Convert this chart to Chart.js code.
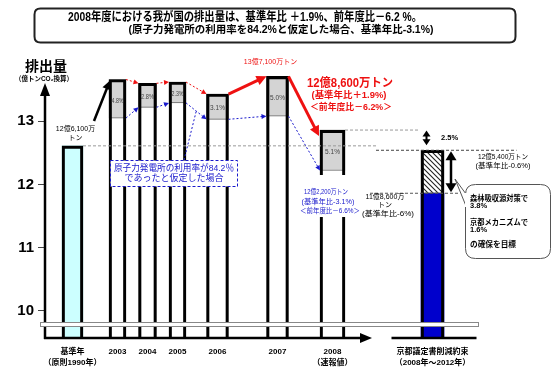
<!DOCTYPE html>
<html><head><meta charset="utf-8">
<script src="https://cdn.jsdelivr.net/npm/chart.js@4/dist/chart.umd.min.js"></script>
<style>html,body{margin:0;padding:0;background:#fff}#wrap{width:553px;height:369px;position:relative}</style>
</head><body><div id="wrap"><canvas id="c" width="553" height="369"></canvas></div>
<script>
// ---------------- data (億トンCO2) ----------------
const categories = ['基準年', '2003', '2004', '2005', '2006', '2007', '2008', '京都議定書削減約束'];
const categorySubLabels = ['（原則1990年）', '', '', '', '', '', '（速報値）', '（2008年～2012年）'];
const emissions = [12.61, 13.66, 13.60, 13.62, 13.43, 13.71, 12.86, 12.54];
const nuclearAdjusted = [null, 13.05, 13.22, 13.29, 13.03, 13.08, 12.22, null];
const nuclearShareLabels = ['', '4.8%', '2.8%', '2.3%', '3.1%', '5.0%', '5.1%', ''];
const kyotoDomestic = [null, null, null, null, null, null, null, 11.86];
const yTicks = [10, 11, 12, 13];

// ---------------- layout / style ----------------
const SLOT_COUNT = 100;
const slotOf = [5, 14, 20, 26, 34, 46, 57, 77];
const barWidth = [21, 17, 18, 17, 22, 22, 25, 23];
const barFill = ['#ccffff', '#ffffff', '#ffffff', '#ffffff', '#ffffff', '#ffffff', '#ffffff', '#0000cc'];
const Y_MIN = 9.57, Y_MAX = 14;
const FONT = "'Liberation Sans', 'Noto Sans CJK JP', sans-serif";
const RED = '#ee1111', BLUE = '#1a1acc';

// hatch pattern
const hatch = (() => {
  const c = document.createElement('canvas'); c.width = 5; c.height = 5;
  const g = c.getContext('2d');
  g.fillStyle = '#fff'; g.fillRect(0, 0, 5, 5);
  g.strokeStyle = '#222'; g.lineWidth = 1.1;
  g.beginPath();
  g.moveTo(-1, -1); g.lineTo(6, 6);
  g.moveTo(4, -1); g.lineTo(6, 1);
  g.moveTo(-1, 4); g.lineTo(1, 6);
  g.stroke();
  return g.createPattern(c, 'repeat');
})();

// build labels & datasets
const labels = Array(SLOT_COUNT).fill('');
categories.forEach((c, i) => {
  labels[slotOf[i]] = categorySubLabels[i] ? [c, categorySubLabels[i]] : c;
});
const empty = () => Array(SLOT_COUNT).fill(null);
const datasets = [];
categories.forEach((c, i) => {
  const k = slotOf[i];
  const top = emissions[i];
  const base = { grouped: false, barThickness: barWidth[i], clip: 0 };
  const fillTop = kyotoDomestic[i] != null ? kyotoDomestic[i] : top;
  const fd = empty(); fd[k] = [Y_MIN, fillTop];
  datasets.push({ ...base, data: fd, backgroundColor: barFill[i], borderWidth: 0, order: 3 });
  const lo = nuclearAdjusted[i] != null ? nuclearAdjusted[i] : kyotoDomestic[i];
  if (lo != null) {
    const sd = empty(); sd[k] = [lo, top];
    datasets.push({ ...base, data: sd, backgroundColor: kyotoDomestic[i] != null ? hatch : '#d4d4d4',
      borderColor: '#666', borderWidth: 1, borderSkipped: false, order: 2 });
  }
  const od = empty(); od[k] = [Y_MIN, top];
  datasets.push({ ...base, data: od, backgroundColor: 'rgba(0,0,0,0)', borderColor: '#000',
    borderWidth: 2.5, borderSkipped: 'start', order: 1 });
});

// ---------------- drawing helpers ----------------
function txt(ctx, s, x, y, o = {}) {
  ctx.save();
  ctx.font = `${o.bold ? 'bold ' : ''}${o.size || 7}px ${FONT}`;
  ctx.fillStyle = o.color || '#000';
  ctx.textAlign = o.align || 'center';
  ctx.textBaseline = 'middle';
  ctx.translate(x, y);
  const w = ctx.measureText(s).width;
  if (o.width) ctx.scale(o.width / w, 1);
  else if (o.maxWidth && w > o.maxWidth) ctx.scale(o.maxWidth / w, 1);
  ctx.fillText(s, 0, 0);
  ctx.restore();
}
function line(ctx, x1, y1, x2, y2, o = {}) {
  ctx.save();
  ctx.strokeStyle = o.color || '#000'; ctx.lineWidth = o.lw || 1; ctx.setLineDash(o.dash || []);
  ctx.beginPath(); ctx.moveTo(x1, y1); ctx.lineTo(x2, y2); ctx.stroke();
  ctx.restore();
}
function head(ctx, x1, y1, x2, y2, len, hw, color) {
  const a = Math.atan2(y2 - y1, x2 - x1);
  const bx = x2 - len * Math.cos(a), by = y2 - len * Math.sin(a);
  ctx.save(); ctx.fillStyle = color;
  ctx.beginPath(); ctx.moveTo(x2, y2);
  ctx.lineTo(bx + hw * Math.sin(a), by - hw * Math.cos(a));
  ctx.lineTo(bx - hw * Math.sin(a), by + hw * Math.cos(a));
  ctx.closePath(); ctx.fill(); ctx.restore();
  return [bx, by];
}
function arrow(ctx, x1, y1, x2, y2, o = {}) {
  const color = o.color || '#000';
  const a = Math.atan2(y2 - y1, x2 - x1);
  const len = o.head || 6;
  line(ctx, x1, y1, x2 - len * 0.8 * Math.cos(a), y2 - len * 0.8 * Math.sin(a), o);
  head(ctx, x1, y1, x2, y2, len, o.hw || 3, color);
}
function dblArrow(ctx, x, y1, y2, o = {}) {
  const len = o.head || 6;
  line(ctx, x, y1 + len * 0.8, x, y2 - len * 0.8, o);
  head(ctx, x, y2, x, y1, len, o.hw || 3, o.color || '#000');
  head(ctx, x, y1, x, y2, len, o.hw || 3, o.color || '#000');
}
function rrect(ctx, x, y, w, h, r) {
  ctx.beginPath();
  ctx.moveTo(x + r, y); ctx.lineTo(x + w - r, y); ctx.quadraticCurveTo(x + w, y, x + w, y + r);
  ctx.lineTo(x + w, y + h - r); ctx.quadraticCurveTo(x + w, y + h, x + w - r, y + h);
  ctx.lineTo(x + r, y + h); ctx.quadraticCurveTo(x, y + h, x, y + h - r);
  ctx.lineTo(x, y + r); ctx.quadraticCurveTo(x, y, x + r, y); ctx.closePath();
}

const annotations = {
  id: 'annotations',
  afterDraw(chart) {
    const ctx = chart.ctx, xs = chart.scales.x, ys = chart.scales.y, A = chart.chartArea;
    const X = i => xs.getPixelForValue(slotOf[i]);
    const L = i => X(i) - barWidth[i] / 2, R = i => X(i) + barWidth[i] / 2;
    const Y = v => ys.getPixelForValue(v);

    // title box
    ctx.save(); ctx.lineWidth = 2; ctx.strokeStyle = '#222';
    rrect(ctx, 34.5, 8.5, 481, 34, 6); ctx.stroke(); ctx.restore();
    txt(ctx, '2008年度における我が国の排出量は、基準年比 ＋1.9%、前年度比－6.2 %。', 245, 17.5, { bold: true, size: 12.5, width: 354 });
    txt(ctx, '(原子力発電所の利用率を84.2%と仮定した場合、基準年比-3.1%)', 281, 30.5, { bold: true, size: 10.5, width: 305 });

    // axis title
    txt(ctx, '排出量', 46, 67, { bold: true, size: 14 });
    txt(ctx, '（億トンCO₂換算）', 44, 79.5, { bold: true, size: 7, width: 58 });

    // y axis arrow
    line(ctx, A.left, A.bottom + 1, A.left, A.top + 35, { lw: 2.5 });
    head(ctx, A.left, A.top + 40, A.left, A.top + 25, 13, 5, '#000');

    // base-year dashed reference line & kyoto lines
    line(ctx, R(0), Y(emissions[0]), L(7) - 45, Y(emissions[0]), { color: '#999', dash: [3, 2] });
    line(ctx, L(7) - 45, Y(emissions[7]), X(7) + 84, Y(emissions[7]), { color: '#444', dash: [3, 2] });
    line(ctx, R(6), Y(emissions[6]), L(7) - 1, Y(emissions[6]), { color: '#999', dash: [3, 2] });
    line(ctx, L(7) - 51, Y(kyotoDomestic[7]), X(7) + 27, Y(kyotoDomestic[7]), { color: '#555', dash: [3, 2] });

    // base year label + arrow
    txt(ctx, '12億6,100万', X(0) + 3, 129, { size: 7 });
    txt(ctx, 'トン', X(0) + 3, 138, { size: 7 });
    arrow(ctx, 94, 121, L(1) + 1, Y(emissions[1]) + 1, { lw: 2.5, head: 9, hw: 4.5 });

    // nuclear share labels
    nuclearAdjusted.forEach((v, i) => {
      if (v == null) return;
      txt(ctx, nuclearShareLabels[i], X(i), (Y(v) + Y(emissions[i])) / 2 + 2, { size: 6.5, color: '#444', maxWidth: barWidth[i] - 5 });
    });

    // red trend arrows
    for (let i = 1; i <= 3; i++)
      arrow(ctx, R(i), Y(emissions[i]), L(i + 1), Y(emissions[i + 1]), { color: RED, dash: [2, 2], head: 5, hw: 2.5 });
    arrow(ctx, R(4), Y(emissions[4]), L(5), Y(emissions[5]), { color: RED, lw: 3, head: 10, hw: 5 });
    arrow(ctx, R(5), Y(emissions[5]), L(6) - 1, Y(emissions[6]) + 6, { color: RED, lw: 3, head: 10, hw: 5 });

    // blue adjusted arrows
    for (let i = 1; i <= 5; i++)
      arrow(ctx, R(i), Y(nuclearAdjusted[i]), L(i + 1), Y(nuclearAdjusted[i + 1]), { color: BLUE, dash: [2, 2], head: 5, hw: 2.5 });

    // blue note box + leader
    const mx = (R(3) + L(4)) / 2, my = (Y(nuclearAdjusted[3]) + Y(nuclearAdjusted[4])) / 2;
    line(ctx, 184, 160, mx, my, { color: BLUE, dash: [2, 2] });
    ctx.save(); ctx.fillStyle = '#fff'; ctx.fillRect(110.5, 160.5, 127, 26);
    ctx.strokeStyle = BLUE; ctx.setLineDash([3, 2]); ctx.strokeRect(110.5, 160.5, 127, 26); ctx.restore();
    txt(ctx, '原子力発電所の利用率が84.2％', 174, 168.5, { size: 9, color: BLUE, width: 120 });
    txt(ctx, 'であったと仮定した場合', 174, 179, { size: 9, color: BLUE });

    // 2007 label
    txt(ctx, '13億7,100万トン', X(5) - 7, 62, { size: 7, color: RED });

    // 2008 red callout text
    txt(ctx, '12億8,600万トン', 350, 84, { bold: true, size: 12, color: RED, width: 86 });
    txt(ctx, '(基準年比＋1.9%)', 349, 96, { bold: true, size: 9, color: RED, width: 75 });
    txt(ctx, '＜前年度比－6.2%＞', 351, 107.5, { bold: true, size: 9, color: RED, width: 82 });

    // 2008 adjusted label (white backing)
    ctx.save(); ctx.fillStyle = '#fff'; ctx.fillRect(298, 175, 66, 42); ctx.restore();
    txt(ctx, '12億2,200万トン', 326, 192, { size: 7, color: BLUE, width: 44 });
    txt(ctx, '(基準年比-3.1%)', 328, 202, { size: 7, color: BLUE, width: 53 });
    txt(ctx, '＜前年度比－6.6%＞', 330, 211, { size: 7, color: BLUE, width: 60 });

    // Kyoto annotations
    dblArrow(ctx, X(7) - 6, Y(emissions[6]) + 0.5, Y(emissions[0]) - 0.5, { lw: 2, head: 6, hw: 4 });
    txt(ctx, '2.5%', 441, 138, { bold: true, size: 7.5, align: 'left' });
    dblArrow(ctx, X(7) + 18.5, Y(emissions[7]) + 1, Y(kyotoDomestic[7]) - 1, { lw: 2.5, head: 9, hw: 5.5 });
    txt(ctx, '12億5,400万トン', 503, 157, { size: 7, width: 50 });
    txt(ctx, '(基準年比-0.6%)', 503, 166, { size: 7, width: 55 });
    txt(ctx, '11億8,600万', 385, 197, { size: 7 });
    txt(ctx, 'トン', 385, 205.5, { size: 7 });
    txt(ctx, '(基準年比-6%)', 388, 214, { size: 7, width: 52 });

    // speech callout
    ctx.save();
    ctx.fillStyle = '#fff'; ctx.strokeStyle = '#555'; ctx.lineWidth = 1;
    rrect(ctx, 465.5, 184.5, 85, 74, 10); ctx.fill(); ctx.stroke();
    ctx.beginPath(); ctx.moveTo(466, 194); ctx.lineTo(455, 179); ctx.lineTo(466, 206);
    ctx.fill(); ctx.stroke();
    ctx.fillRect(465, 193, 3, 14);
    ctx.restore();
    const cx = 470;
    txt(ctx, '森林吸収源対策で', cx, 198.5, { bold: true, size: 7.5, align: 'left', width: 58 });
    txt(ctx, '3.8%', cx, 206, { bold: true, size: 7.5, align: 'left' });
    txt(ctx, '京都メカニズムで', cx, 222.5, { bold: true, size: 7.5, align: 'left', width: 58 });
    txt(ctx, '1.6%', cx, 230, { bold: true, size: 7.5, align: 'left' });
    txt(ctx, 'の確保を目標', cx, 245, { bold: true, size: 7.5, align: 'left', width: 46 });

    // axis break band
    ctx.save(); ctx.fillStyle = '#fff'; ctx.fillRect(40, A.bottom - 15, 438, 4);
    ctx.strokeStyle = '#888'; ctx.lineWidth = 1; ctx.strokeRect(40.5, A.bottom - 15.5, 438, 4); ctx.restore();

    // x axis with arrow, and Kyoto baseline
    const tip = R(6) + 27;
    line(ctx, A.left - 1, A.bottom, tip - 10, A.bottom, { lw: 2.5 });
    head(ctx, A.left, A.bottom, tip, A.bottom, 12, 5, '#000');
    line(ctx, X(7) - 41, A.bottom, X(7) + 44, A.bottom, { lw: 2.5 });
  }
};

new Chart(document.getElementById('c'), {
  type: 'bar',
  data: { labels, datasets },
  options: {
    responsive: false, animation: false, devicePixelRatio: 1,
    layout: { padding: { top: 58, right: 8, bottom: 0, left: 0 } },
    plugins: { legend: { display: false }, tooltip: { enabled: false } },
    scales: {
      x: {
        type: 'category',
        grid: { display: false, drawTicks: false }, border: { display: false },
        ticks: { autoSkip: false, maxRotation: 0, minRotation: 0, padding: 8, color: '#000',
          font: { size: 8, weight: 'bold', family: FONT, lineHeight: 1.4 } },
        afterFit: s => { s.height = 31; }
      },
      y: {
        min: Y_MIN, max: Y_MAX,
        afterBuildTicks: s => { s.ticks = yTicks.map(v => ({ value: v })); },
        grid: { drawOnChartArea: false, tickLength: 7, color: '#444', lineWidth: 1 },
        border: { display: false },
        ticks: { color: '#000', padding: 4, font: { size: 15, weight: 'bold', family: "'Liberation Sans', Arial, sans-serif" } },
        afterFit: s => { s.width = 45; }
      }
    }
  },
  plugins: [annotations]
});
</script>
</body></html>
